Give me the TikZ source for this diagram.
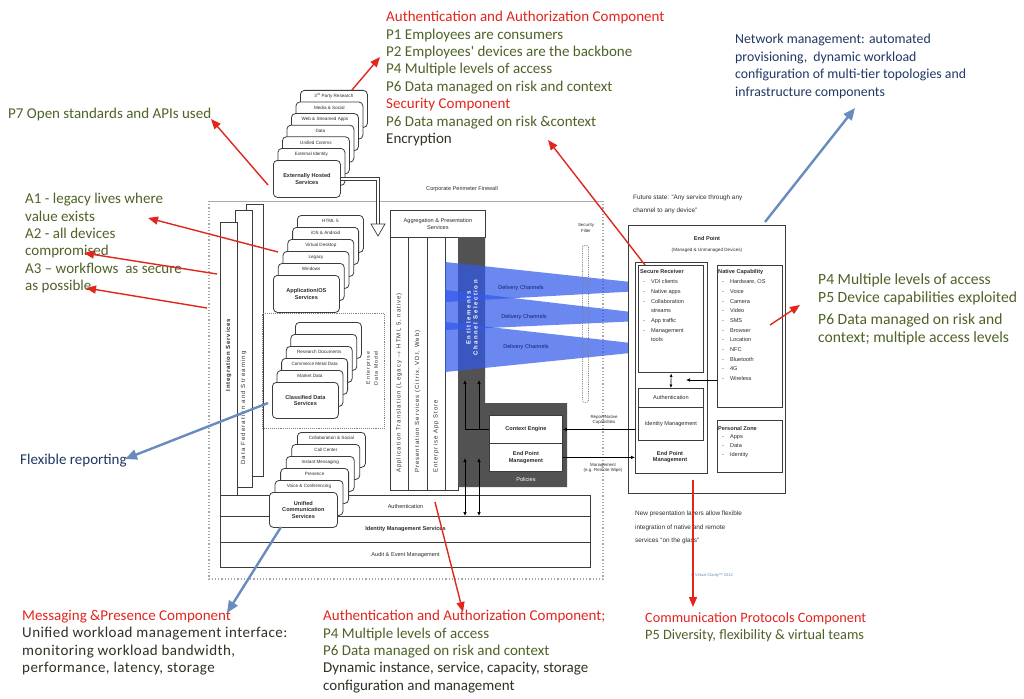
\documentclass[tikz,border=0pt]{standalone}
\usepackage{fontspec}
\setmainfont{Liberation Sans}
\newfontfamily\calibri{Carlito}
\usetikzlibrary{arrows.meta}

\definecolor{annred}{RGB}{226,38,30}
\definecolor{anngreen}{RGB}{79,98,40}
\definecolor{annblue}{RGB}{31,56,100}
\definecolor{anndark}{RGB}{45,52,38}
\definecolor{steel}{RGB}{105,140,190}
\definecolor{beamblue}{RGB}{50,90,235}
\definecolor{policygray}{RGB}{82,82,82}
\definecolor{edge}{RGB}{60,60,60}
\definecolor{chantext}{RGB}{20,35,110}
\definecolor{inktext}{RGB}{45,45,45}

\newcommand\fsNote{\calibri\fontsize{15}{17.4}\selectfont}
\newcommand\fsLayer{\fontsize{4.6}{5.5}\selectfont}
\newcommand\fsBox{\fontsize{5.6}{6.6}\selectfont}
\newcommand\fsList{\fontsize{5.6}{9.7}\selectfont}
\newcommand\fsTiny{\fontsize{4.4}{5.2}\selectfont}
\newcommand\fsCap{\fontsize{6.4}{12.8}\selectfont}
\newcommand\fsVert{\fontsize{6}{7}\selectfont}
\newcommand\spaced[1]{\addfontfeatures{LetterSpace=#1}}

\tikzset{
  note/.style={font=\fsNote, align=left, anchor=north west, inner sep=0pt},
  redarrow/.style={draw=annred, line width=1.4pt, -{Triangle[length=10pt,width=8pt]}},
  bluearrow/.style={draw=steel, line width=2.4pt, -{Triangle[length=12pt,width=10pt]}},
  layer/.style={draw=edge, fill=white, rounded corners=4pt, line width=0.8pt, anchor=north west, inner sep=0pt},
  layertext/.style={font=\fsLayer, inner sep=0pt, text=inktext},
  frontbox/.style={layer, font=\fsBox\bfseries, align=center, text=inktext},
  box/.style={draw=edge, fill=white, line width=0.8pt, anchor=north west, inner sep=0pt, text=inktext},
  dgarrow/.style={draw=black, line width=0.7pt, -{Latex[length=4pt,width=3.5pt]}},
  listnode/.style={anchor=north west, inner sep=0pt, font=\fsList, text=inktext},
}

\begin{document}
\begin{tikzpicture}[x=1pt,y=-1pt]
\useasboundingbox (0,0) rectangle (1024,698);
\fill[white] (0,0) rectangle (1024,698);

% ---------- corporate perimeter ----------
\draw[gray!65, line width=1pt] (209,201) -- (603,201);
\draw[gray!70, line width=1.2pt, dotted] (209,201) -- (209,579) -- (603,579) -- (603,201);
\node[font=\fsBox, text=inktext] (perim) at (462,189) {Corporate Perimeter Firewall};

% ---------- integration bars ----------
\node[box, minimum width=17pt, minimum height=272pt] (barC) at (246,204) {};
\node[box, minimum width=17pt, minimum height=277pt] (barB) at (235,210) {};
\node[box, minimum width=17pt, minimum height=273pt] (barA) at (220,222) {};
\node[font=\fsVert\bfseries\spaced{14}, rotate=90, text=inktext] (intsvc) at (228.5,355) {Integration Services};
\node[font=\fsVert\spaced{20}, rotate=90, text=inktext] (datafed) at (243.5,408) {Data Federation and Streaming};

% ---------- enterprise data model ----------
\node[draw=gray, densely dotted, line width=0.9pt, anchor=north west, minimum width=122pt, minimum height=115pt, inner sep=0pt] (edm) at (262,313) {};
\node[font=\fontsize{5.2}{8}\selectfont\spaced{18}, rotate=90, align=center, text=inktext] (edmt) at (372,368) {Enterprise\\Data Model};

% ---------- identity / audit bands ----------
\node[box, line width=1pt, minimum width=370pt, minimum height=21pt, font=\fsBox] (authband) at (220,495) {Authentication};
\node[box, line width=1pt, minimum width=370pt, minimum height=26pt, font=\fsBox\bfseries] (idband) at (220,516) {Identity Management Services};
\node[box, line width=1pt, minimum width=370pt, minimum height=25pt, font=\fsBox] (auditband) at (220,542) {Audit \& Event Management};

% ---------- externally hosted services ----------
\foreach \lab [count=\i from 0] in {3\textsuperscript{rd} Party Research, Media \& Social, Web \& Streamed Apps, Data, Unified Comms, External Identity}{
  \node[layer, minimum width=67pt, minimum height=37pt] (ext\i) at ({300-4.5*\i},{90+11.6*\i}) {};
  \node[layertext] (extl\i) at ([yshift=-6pt]ext\i.north) {\lab};
}
\node[frontbox, minimum width=67pt, minimum height=37pt] (ext) at (273,160) {Externally Hosted\\Services};

% ---------- application / OS services ----------
\foreach \lab [count=\i from 0] in {HTML 5, iOS \& Android, Virtual Desktop, Legacy, Windows}{
  \node[layer, minimum width=66pt, minimum height=37pt] (app\i) at ({297-4.8*\i},{215+12*\i}) {};
  \node[layertext] (appl\i) at ([yshift=-6pt]app\i.north) {\lab};
}
\node[frontbox, minimum width=66pt, minimum height=37pt] (app) at (273,275) {Application/OS\\Services};

% ---------- classified data services ----------
\foreach \lab [count=\i from 0] in {{}, {}, Research Documents, Commerce Metal Data, Market Data}{
  \node[layer, minimum width=66pt, minimum height=36pt] (cls\i) at ({295-4.6*\i},{322+12*\i}) {};
  \node[layertext] (clsl\i) at ([yshift=-6pt]cls\i.north) {\lab};
}
\node[frontbox, minimum width=66pt, minimum height=36pt] (cls) at (272,382) {Classified Data\\Services};

% ---------- unified communication services ----------
\foreach \lab [count=\i from 0] in {Collaboration \& Social, Call Center, Instant Messaging, Presence, Voice \& Conferencing}{
  \node[layer, minimum width=68pt, minimum height=35pt] (uc\i) at ({297-5.6*\i},{432+12*\i}) {};
  \node[layertext] (ucl\i) at ([yshift=-6pt]uc\i.north) {\lab};
}
\node[frontbox, minimum width=68pt, minimum height=35pt] (uc) at (269,492) {Unified\\Communication\\Services};

% ---------- aggregation & presentation ----------
\node[box, minimum width=95pt, minimum height=27pt, font=\fsBox, align=center] (agg) at (390,210) {Aggregation \& Presentation\\Services};
\node[box, minimum width=68pt, minimum height=253pt] (aggbody) at (390,237) {};
\node[box, minimum width=18pt, minimum height=253pt] (col1) at (390,237) {};
\node[box, minimum width=19pt, minimum height=253pt] (col2) at (408,237) {};
\node[box, minimum width=18pt, minimum height=253pt] (col3) at (427,237) {};
\node[font=\fsVert\spaced{17}, rotate=90, anchor=west, inner sep=0pt, text=inktext] (col1t) at (399,473) {Application Translation (Legacy $\to$ HTML 5, native)};
\node[font=\fsVert\spaced{17}, rotate=90, anchor=west, inner sep=0pt, text=inktext] (col2t) at (417.5,473) {Presentation Services (Citrix, VDI, Web)};
\node[font=\fsVert\spaced{17}, rotate=90, anchor=west, inner sep=0pt, text=inktext] (col3t) at (436,473) {Enterprise App Store};

% policies block with entitlements column
\fill[policygray] (458,237) -- (485,237) -- (485,403) -- (567,403) -- (567,487) -- (458,487) -- cycle;

% delivery channels
\fill[beamblue, fill opacity=0.72] (445,262) -- (640,283) -- (640,291) -- (445,302) -- cycle;
\fill[beamblue, fill opacity=0.72] (445,290) -- (640,313) -- (640,321) -- (445,330) -- cycle;
\fill[beamblue, fill opacity=0.72] (445,322) -- (640,344) -- (640,352) -- (445,372) -- cycle;
\node[font=\fsBox, text=chantext] (dc1) at (521,288) {Delivery Channels};
\node[font=\fsBox, text=chantext] (dc2) at (524,317) {Delivery Channels};
\node[font=\fsBox, text=chantext] (dc3) at (526,347) {Delivery Channels};

\node[font=\fsVert\bfseries\spaced{26}, rotate=90, align=center, text=white] (entit) at (472,318) {Entitlements\\Channel Selection};

\node[box, minimum width=73pt, minimum height=28pt, font=\fsBox\bfseries] (ctx) at (489,415) {Context Engine};
\node[box, minimum width=73pt, minimum height=28pt, font=\fsBox\bfseries, align=center] (epmg) at (489,443) {End Point\\Management};
\node[font=\fsBox, text=white] (policies) at (526,479) {Policies};

\coordinate (entA) at (465,380);
\coordinate (entB) at (479,380);
\draw[dgarrow] (ctx.west) -| (entA);
\draw[dgarrow] (ctx.west -| entB) -- (entB);
\coordinate (polA) at (465,458);
\coordinate (polB) at (479,458);
\draw[dgarrow, {Latex[length=4pt,width=3.5pt]}-{Latex[length=4pt,width=3.5pt]}] (polA) -- (polA |- idband.north);
\draw[dgarrow, {Latex[length=4pt,width=3.5pt]}-{Latex[length=4pt,width=3.5pt]}] (polB) -- (polB |- idband.north);

% hosted services feed into aggregation
\coordinate (extarrow) at (378,224);
\draw[draw=edge, double=white, double distance=2.4pt, line width=0.7pt] (ext.east) -| (extarrow);
\draw[edge, fill=white, line width=0.7pt] (extarrow) ++(-7,0) -- ++(14,0) -- ++(-7,12) -- cycle;

% security filter
\node[font=\fsTiny, align=center, text=inktext] (secf) at (586,228) {Security\\Filter};
\node[draw=gray, densely dotted, line width=0.8pt, rounded corners=2pt, minimum width=6pt, minimum height=157pt, anchor=north west, inner sep=0pt] (secbar) at (582,245) {};

\node[font=\fsTiny, align=center, text=inktext] (replab) at (604,420) {Report/Native\\Capabilities};
\node[font=\fsTiny, align=center, text=inktext] (mgmtlab) at (603,468) {Management\\(e.g. Remote Wipe)};

% ---------- end point ----------
\node[font=\fsCap, align=left, anchor=north west, inner sep=0pt, text=inktext] (future) at (633,195) {Future state: ``Any service through any\\channel to any device''};
\node[box, line width=1.1pt, minimum width=157pt, minimum height=268pt] (ep) at (628,225) {};
\node[font=\fsBox\bfseries, text=inktext] (eptitle) at (707,238) {End Point};
\node[font=\fsLayer, text=inktext] (epsub) at (707,250) {(Managed \& Unmanaged Devices)};
\node[box, line width=1.1pt, minimum width=72pt, minimum height=211pt] (epl) at (635,262) {};
\node[box, line width=1.4pt, minimum width=65pt, minimum height=107pt] (sr) at (638,265) {};
\node[listnode] (srtext) at (640,267) {\begin{tabular}{@{}l@{\hspace{6pt}}l@{}}
\multicolumn{2}{@{}l}{\bfseries Secure Receiver}\\
\hspace{3pt}- & VDI clients\\
\hspace{3pt}- & Native apps\\
\hspace{3pt}- & Collaboration\\
 & streams\\
\hspace{3pt}- & App traffic\\
\hspace{3pt}- & Management\\
 & tools
\end{tabular}};
\node[box, minimum width=65pt, minimum height=19pt, font=\fsBox] (auth) at (638,388) {Authentication};
\node[box, minimum width=65pt, minimum height=33pt, font=\fsBox] (idm) at (638,407) {Identity Management};
\node[font=\fsBox\bfseries, align=center, text=inktext] (epmlab) at (670,457) {End Point\\Management};
\draw[dgarrow, {Latex[length=3.5pt,width=3pt]}-{Latex[length=3.5pt,width=3pt]}] (sr.south) -- (auth.north);

\node[box, line width=1.1pt, minimum width=65pt, minimum height=142pt] (nc) at (717,265) {};
\node[listnode] (nctext) at (718,267) {\begin{tabular}{@{}l@{\hspace{6pt}}l@{}}
\multicolumn{2}{@{}l}{\bfseries Native Capability}\\
\hspace{4pt}- & Hardware, OS\\
\hspace{4pt}- & Voice\\
\hspace{4pt}- & Camera\\
\hspace{4pt}- & Video\\
\hspace{4pt}- & SMS\\
\hspace{4pt}- & Browser\\
\hspace{4pt}- & Location\\
\hspace{4pt}- & NFC\\
\hspace{4pt}- & Bluetooth\\
\hspace{4pt}- & 4G\\
\hspace{4pt}- & Wireless
\end{tabular}};
\coordinate (ncarrow) at (686,380);
\draw[dgarrow] (nc.west |- ncarrow) -- (ncarrow);

\node[box, line width=1.1pt, minimum width=65pt, minimum height=52pt] (pz) at (717,420) {};
\node[listnode, font=\fontsize{5.6}{8.6}\selectfont] (pztext) at (718,424) {\begin{tabular}{@{}l@{\hspace{6pt}}l@{}}
\multicolumn{2}{@{}l}{\bfseries Personal Zone}\\
\hspace{4pt}- & Apps\\
\hspace{4pt}- & Data\\
\hspace{4pt}- & Identity
\end{tabular}};

\draw[dgarrow] (epl.west |- ctx.east) -- (ctx.east);
\draw[dgarrow] (epmg.east) -- (epl.west |- epmg.east);

\node[font=\fontsize{6.4}{13.5}\selectfont, align=left, anchor=north west, inner sep=0pt, text=inktext] (glass) at (635,511) {New presentation layers allow flexible\\integration of native and remote\\services ``on the glass''};
\node[font=\fontsize{4}{5}\selectfont, text=steel] (copy) at (712,575) {\textcopyright\ Virtual Clarity\texttrademark\ 2012};

% ---------- annotations ----------
\node[note] (topnote) at (386,11) {\textcolor{annred}{Authentication and Authorization Component}\\
\textcolor{anngreen}{P1 Employees are consumers}\\
\textcolor{anngreen}{P2 Employees' devices are the backbone}\\
\textcolor{anngreen}{P4 Multiple levels of access}\\
\textcolor{anngreen}{P6 Data managed on risk and context}\\
\textcolor{annred}{Security Component}\\
\textcolor{anngreen}{P6 Data managed on risk \&context}\\
\textcolor{anndark}{Encryption}};

\node[note, font=\calibri\fontsize{13.8}{17.6}\selectfont, text=annblue] (netnote) at (735,34) {Network management: automated\\provisioning,\ \ dynamic workload\\configuration of multi-tier topologies and\\infrastructure components};

\node[note, text=anngreen] (p7note) at (8,108) {P7 Open standards and APIs used};

\node[note, text=anngreen] (anote) at (25,193) {A1 - legacy lives where\\value exists\\A2 - all devices\\compromised\\A3 – workflows\ \ as secure\\as possible};

\node[note, font=\calibri\fontsize{15.6}{18}\selectfont, text=anngreen] (rnote) at (818,273) {P4 Multiple levels of access\\P5 Device capabilities exploited\\[4pt]P6 Data managed on risk and\\context; multiple access levels};

\node[note, text=annblue] (flexnote) at (20,454) {Flexible reporting};

\node[note] (msgnote) at (22,610) {\textcolor{annred}{Messaging \&Presence Component}\\
{\spaced{3}\textcolor{anndark}{Unified workload management interface:}}\\
{\spaced{3}\textcolor{anndark}{monitoring workload bandwidth,}}\\
{\spaced{3}\textcolor{anndark}{performance, latency, storage}}};

\node[note] (aanote) at (323,610) {\textcolor{annred}{Authentication and Authorization Component;}\\
\textcolor{anngreen}{P4 Multiple levels of access}\\
\textcolor{anngreen}{P6 Data managed on risk and context}\\
\textcolor{anndark}{Dynamic instance, service, capacity, storage}\\
\textcolor{anndark}{configuration and management}};

\node[note, font=\calibri\fontsize{14.3}{17}\selectfont] (cpnote) at (645,612) {\textcolor{annred}{Communication Protocols Component}\\
\textcolor{anngreen}{P5 Diversity, flexibility \& virtual teams}};

% ---------- annotation arrows (diagram part -> note) ----------
\coordinate (topA) at (352,90);   \coordinate (topB) at (380,57);
\coordinate (p7A) at (268,185);   \coordinate (p7B) at (211,119);
\coordinate (a1A) at (278,252);   \coordinate (a1B) at (148,218);
\coordinate (a2A) at (217,274);   \coordinate (a2B) at (84,253);
\coordinate (a3A) at (207,308);   \coordinate (a3B) at (86,288);
\coordinate (secA) at (645,265);  \coordinate (secB) at (548,140);
\coordinate (netA) at (765,222);  \coordinate (netB) at (855,108);
\coordinate (capA) at (770,325);  \coordinate (capB) at (800,305);
\coordinate (flxA) at (268,403);  \coordinate (flxB) at (125,459);
\coordinate (msgA) at (281,527);  \coordinate (msgB) at (227,613);
\coordinate (autA) at (435,502);  \coordinate (autB) at (463,612);
\coordinate (cpA) at (693,480);   \coordinate (cpB) at (693,607);

\draw[redarrow] (topA) -- (topB);
\draw[redarrow] (p7A) -- (p7B);
\draw[redarrow] (a1A) -- (a1B);
\draw[redarrow] (a2A) -- (a2B);
\draw[redarrow] (a3A) -- (a3B);
\draw[redarrow] (secA) -- (secB);
\draw[bluearrow] (netA) -- (netB);
\draw[redarrow] (capA) -- (capB);
\draw[bluearrow] (flxA) -- (flxB);
\draw[bluearrow] (msgA) -- (msgB);
\draw[redarrow] (autA) -- (autB);
\draw[redarrow] (cpA) -- (cpB);
\end{tikzpicture}
\end{document}
